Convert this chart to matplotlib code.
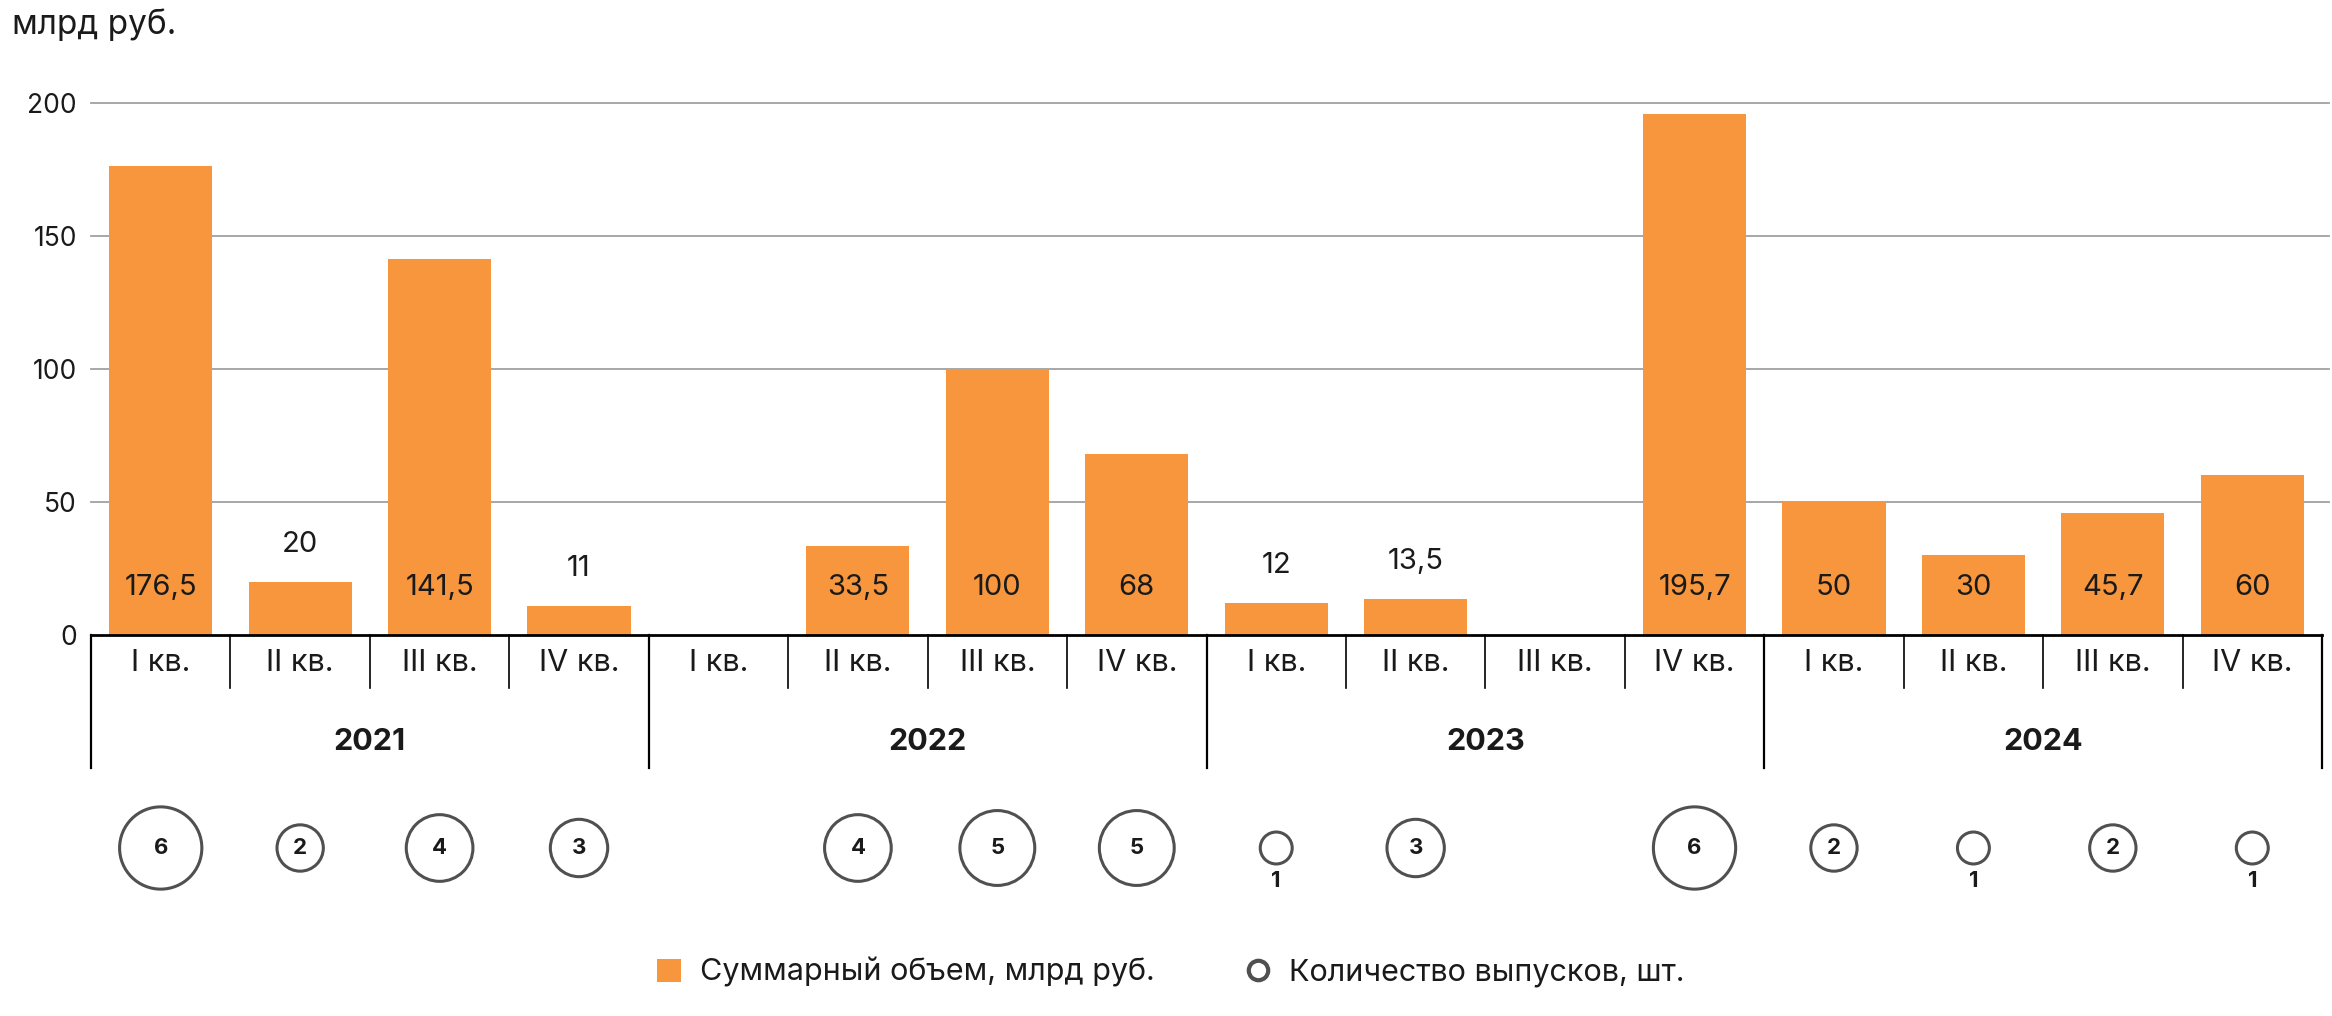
import numpy as np
import matplotlib
matplotlib.use('Agg')
import matplotlib.pyplot as plt
from matplotlib.patches import Patch
from matplotlib.lines import Line2D

plt.rcParams['font.family'] = ['Inter', 'DejaVu Sans']

# data
years = ['2021', '2022', '2023', '2024']
quarters = ['I кв.', 'II кв.', 'III кв.', 'IV кв.']
volume = [176.5, 20, 141.5, 11, 0, 33.5, 100, 68, 12, 13.5, 0, 195.7, 50, 30, 45.7, 60]
volume_labels = ['176,5', '20', '141,5', '11', '', '33,5', '100', '68',
                 '12', '13,5', '', '195,7', '50', '30', '45,7', '60']
issues = [6, 2, 4, 3, 0, 4, 5, 5, 1, 3, 0, 6, 2, 1, 2, 1]

orange = '#F7963D'
circle_col = '#505050'
text_col = '#1a1a1a'

W, H = 2332, 1016
fig = plt.figure(figsize=(W / 100, H / 100), dpi=100)

# layout in pixels
x0, x1 = 91, 2322
y_axis = 635
px_unit = 2.66
ymax = 205
top = y_axis - ymax * px_unit

n = len(volume)
x = np.arange(n)

ax = fig.add_axes([x0 / W, (H - y_axis) / H, (x1 - x0) / W, (y_axis - top) / H])
ax.set_xlim(-0.5, n - 0.5)
ax.set_ylim(0, ymax)
ax.bar(x, volume, width=0.74, color=orange, zorder=3)

for v in [50, 100, 150, 200]:
    ax.plot([-0.5, n - 0.45], [v, v], color='#a0a0a0', lw=1.3, zorder=1, clip_on=False)

ax.set_yticks([0, 50, 100, 150, 200])
ax.set_xticks([])
ax.tick_params(axis='y', length=0, pad=10, labelsize=19, labelcolor=text_col)
for s in ['top', 'right', 'left']:
    ax.spines[s].set_visible(False)
ax.spines['bottom'].set_linewidth(2)
ax.spines['bottom'].set_color('black')
ax.spines['bottom'].set_zorder(4)

# value labels
for i, (v, lab) in enumerate(zip(volume, volume_labels)):
    if not lab:
        continue
    if v >= 25:
        ax.text(i, 18, lab, ha='center', va='center', fontsize=21, color=text_col, zorder=5)
    else:
        ax.text(i, v + 14, lab, ha='center', va='center', fontsize=21, color=text_col, zorder=5)

# bottom area: category labels, years, bubbles
axb = fig.add_axes([x0 / W, 0, (x1 - x0) / W, (H - y_axis) / H])
axb.set_xlim(-0.5, n - 0.5)
axb.set_ylim(H - y_axis, 0)
axb.axis('off')

for i in range(n):
    axb.text(i, 28, quarters[i % 4], ha='center', va='center', fontsize=22, color=text_col)

for b in range(n + 1):
    xb = b - 0.5
    if b % 4 == 0:
        axb.plot([xb, xb], [0, 133], color='black', lw=1.6, clip_on=False)
    else:
        axb.plot([xb, xb], [0, 53], color='black', lw=1.2, clip_on=False)

for k, yr in enumerate(years):
    axb.text(4 * k + 1.5, 107, yr, ha='center', va='center', fontsize=22,
             fontweight='bold', color=text_col)

bx = [i for i in range(n) if issues[i] > 0]
bn = [issues[i] for i in bx]
sizes = [(25 * np.sqrt(c) - 2) ** 2 for c in bn]
axb.scatter(bx, [213] * len(bx), s=sizes, facecolor='white', edgecolor=circle_col,
            linewidth=2.2, zorder=3, clip_on=False)
for i, c in zip(bx, bn):
    if c == 1:
        axb.text(i, 246, str(c), ha='center', va='center', fontsize=16,
                 fontweight='bold', color=text_col)
    else:
        axb.text(i, 213, str(c), ha='center', va='center', fontsize=16,
                 fontweight='bold', color=text_col, zorder=4)

fig.text(12 / W, 1 - 8 / H, 'млрд руб.', ha='left', va='top', fontsize=24, color=text_col)

handles = [Patch(facecolor=orange, edgecolor='none'),
           Line2D([], [], marker='o', ls='none', markersize=14, markerfacecolor='white',
                  markeredgecolor=circle_col, markeredgewidth=3)]
fig.legend(handles, ['Суммарный объем, млрд руб.', 'Количество выпусков, шт.'],
           loc='center', bbox_to_anchor=(0.502, 0.043), ncol=2, frameon=False,
           fontsize=22, handlelength=0.8, handleheight=0.8, handletextpad=0.6,
           columnspacing=3.0, labelcolor=text_col)

fig.savefig('out.png', dpi=100)
